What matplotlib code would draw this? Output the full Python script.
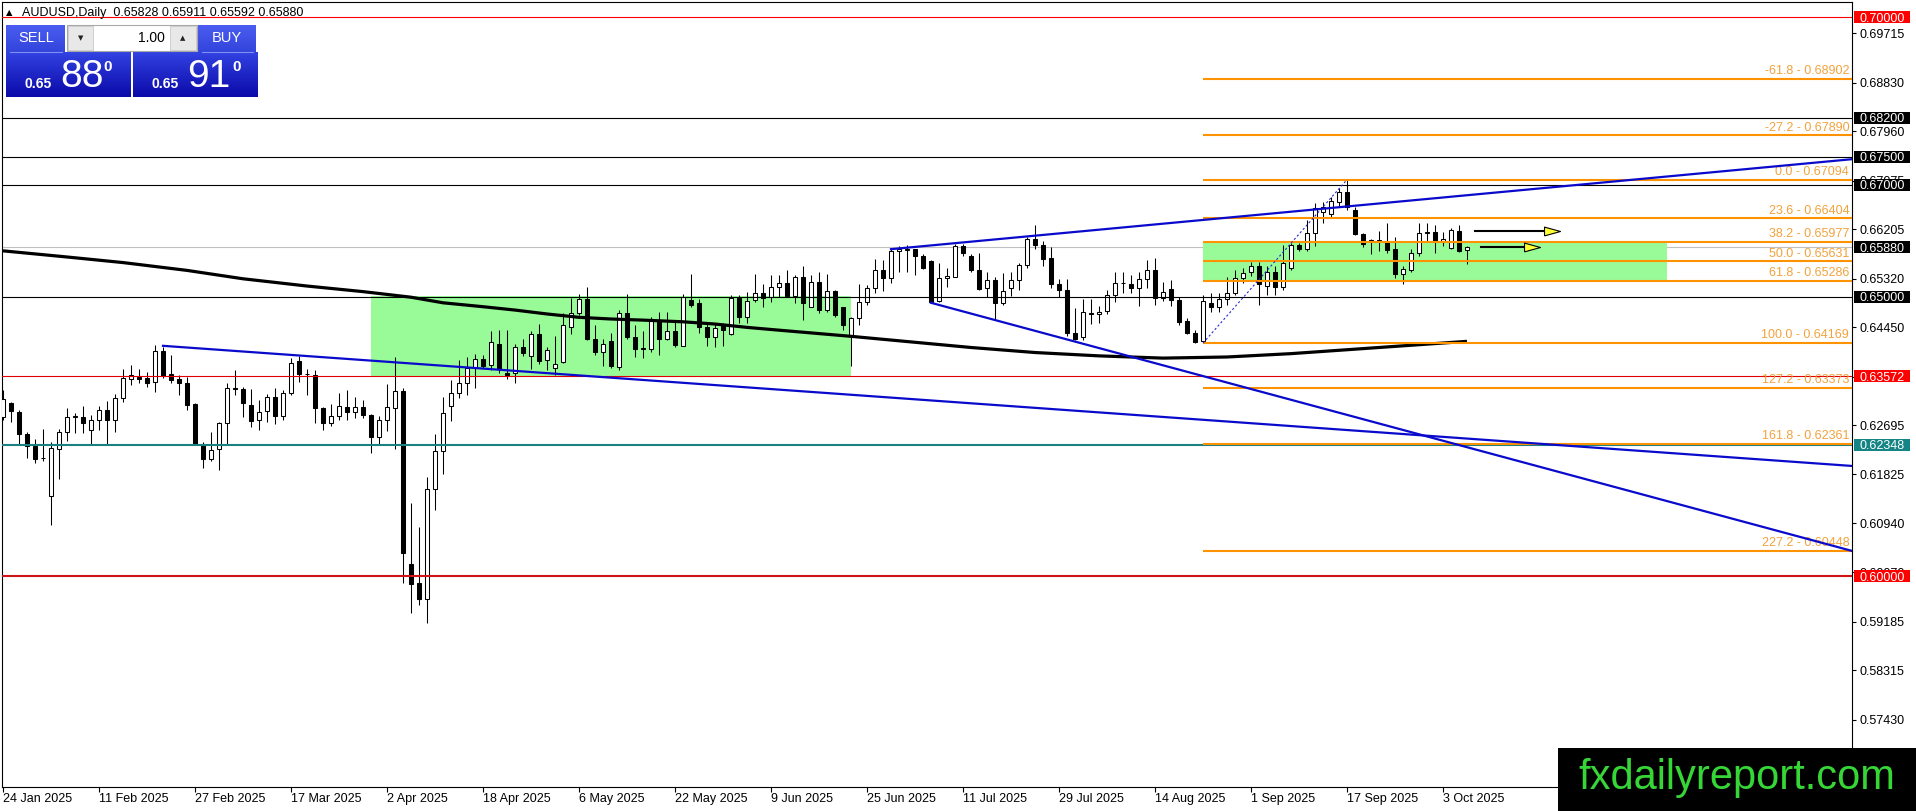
import matplotlib
matplotlib.use("Agg")
import matplotlib.pyplot as plt
import matplotlib.transforms as mtransforms
import numpy as np
import pandas as pd
from matplotlib.colors import LinearSegmentedColormap
from matplotlib.patches import Rectangle

plt.rcParams["font.family"] = ["Liberation Sans", "DejaVu Sans"]

W, H = 1916, 811

# 1. Chart data (AUDUSD daily)
dates = pd.bdate_range("2025-01-24", periods=184)

open_prices = [
    0.6285, 0.6310, 0.6294, 0.6254, 0.6233, 0.6212, 0.6143, 0.6228, 0.6257, 0.6285,
    0.6284, 0.6261, 0.6279, 0.6297, 0.6280, 0.6318, 0.6352, 0.6357, 0.6354, 0.6347,
    0.6403, 0.6361, 0.6352, 0.6346, 0.6308, 0.6236, 0.6210, 0.6227, 0.6273, 0.6336,
    0.6334, 0.6306, 0.6280, 0.6295, 0.6321, 0.6286, 0.6327, 0.6385, 0.6361, 0.6360,
    0.6300, 0.6273, 0.6286, 0.6303, 0.6293, 0.6302, 0.6289, 0.6248, 0.6279, 0.6301,
    0.6331, 0.6022, 0.5987, 0.5958, 0.6156, 0.6224, 0.6304, 0.6328, 0.6346, 0.6372,
    0.6389, 0.6378, 0.6416, 0.6364, 0.6363, 0.6410, 0.6393, 0.6433, 0.6387, 0.6372,
    0.6383, 0.6446, 0.6470, 0.6495, 0.6425, 0.6401, 0.6421, 0.6374, 0.6471, 0.6428,
    0.6408, 0.6406, 0.6458, 0.6425, 0.6439, 0.6412, 0.6494, 0.6489, 0.6446, 0.6427,
    0.6447, 0.6433, 0.6497, 0.6464, 0.6494, 0.6507, 0.6499, 0.6518, 0.6524, 0.6501,
    0.6535, 0.6482, 0.6526, 0.6476, 0.6510, 0.6481, 0.6430, 0.6461, 0.6490, 0.6515,
    0.6547, 0.6533, 0.6581, 0.6584, 0.6585, 0.6573, 0.6563, 0.6493, 0.6533, 0.6536,
    0.6591, 0.6573, 0.6548, 0.6515, 0.6530, 0.6489, 0.6515, 0.6529, 0.6557, 0.6603,
    0.6592, 0.6570, 0.6523, 0.6512, 0.6435, 0.6427, 0.6470, 0.6469, 0.6475, 0.6503,
    0.6525, 0.6523, 0.6515, 0.6531, 0.6547, 0.6497, 0.6513, 0.6494, 0.6456, 0.6435,
    0.6420, 0.6489, 0.6482, 0.6495, 0.6507, 0.6533, 0.6545, 0.6555, 0.6519, 0.6545,
    0.6518, 0.6552, 0.6592, 0.6586, 0.6614, 0.6652, 0.6648, 0.6670, 0.6687, 0.6655,
    0.6613, 0.6601, 0.6600, 0.6597, 0.6585, 0.6541, 0.6548, 0.6579, 0.6614, 0.6616,
    0.6600, 0.6587, 0.6618, 0.65828,
]
high_prices = [
    0.6333, 0.6312, 0.6297, 0.6258, 0.6246, 0.6264, 0.6239, 0.6264, 0.6300, 0.6291,
    0.6304, 0.6288, 0.6304, 0.6314, 0.6326, 0.6370, 0.6378, 0.6370, 0.6366, 0.6413,
    0.6410, 0.6396, 0.6360, 0.6357, 0.6309, 0.6240, 0.6258, 0.6276, 0.6346, 0.6368,
    0.6339, 0.6334, 0.6315, 0.6326, 0.6336, 0.6333, 0.6390, 0.6393, 0.6370, 0.6368,
    0.6302, 0.6308, 0.6328, 0.6333, 0.6320, 0.6315, 0.6290, 0.6286, 0.6344, 0.6392,
    0.6336, 0.6130, 0.6088, 0.6178, 0.6255, 0.6320, 0.6351, 0.6387, 0.6392, 0.6397,
    0.6395, 0.6439, 0.6440, 0.6440, 0.6415, 0.6424, 0.6439, 0.6451, 0.6409, 0.6430,
    0.6471, 0.6497, 0.6505, 0.6517, 0.6449, 0.6425, 0.6435, 0.6476, 0.6505, 0.6449,
    0.6439, 0.6464, 0.6473, 0.6473, 0.6459, 0.6505, 0.6541, 0.6495, 0.6451, 0.6452,
    0.6452, 0.6503, 0.6503, 0.6509, 0.6541, 0.6523, 0.6539, 0.6539, 0.6548, 0.6539,
    0.6554, 0.6539, 0.6545, 0.6541, 0.6512, 0.6482, 0.6464, 0.6523, 0.6521, 0.6567,
    0.6566, 0.6585, 0.6591, 0.6593, 0.6586, 0.6577, 0.6566, 0.6560, 0.6551, 0.6595,
    0.6595, 0.6576, 0.6579, 0.6545, 0.6536, 0.6542, 0.6545, 0.6561, 0.6607, 0.6628,
    0.6600, 0.6588, 0.6531, 0.6531, 0.6479, 0.6495, 0.6495, 0.6483, 0.6512, 0.6545,
    0.6545, 0.6539, 0.6545, 0.6566, 0.6570, 0.6527, 0.6529, 0.6500, 0.6461, 0.6440,
    0.6503, 0.6507, 0.6506, 0.6536, 0.6548, 0.6551, 0.6562, 0.6562, 0.6555, 0.6554,
    0.6592, 0.6596, 0.6596, 0.6638, 0.6668, 0.6670, 0.6678, 0.6694, 0.67094, 0.6661,
    0.6614, 0.6604, 0.6618, 0.6632, 0.6606, 0.6555, 0.6585, 0.6631, 0.6632, 0.6628,
    0.6616, 0.6623, 0.6628, 0.65911,
]
low_prices = [
    0.6280, 0.6276, 0.6237, 0.6212, 0.6202, 0.6205, 0.6091, 0.6173, 0.6242, 0.6256,
    0.6256, 0.6237, 0.6261, 0.6236, 0.6257, 0.6312, 0.6342, 0.6345, 0.6339, 0.6330,
    0.6354, 0.6345, 0.6324, 0.6298, 0.6234, 0.6194, 0.6206, 0.6190, 0.6236, 0.6324,
    0.6284, 0.6267, 0.6261, 0.6276, 0.6272, 0.6280, 0.6324, 0.6348, 0.6324, 0.6273,
    0.6261, 0.6268, 0.6280, 0.6280, 0.6282, 0.6282, 0.6221, 0.6236, 0.6260, 0.6228,
    0.5988, 0.5934, 0.5948, 0.5916, 0.6119, 0.6183, 0.6278, 0.6318, 0.6324, 0.6336,
    0.6372, 0.6369, 0.6363, 0.6352, 0.6346, 0.6393, 0.6370, 0.6379, 0.6369, 0.6360,
    0.6381, 0.6434, 0.6467, 0.6422, 0.6395, 0.6375, 0.6372, 0.6368, 0.6425, 0.6392,
    0.6390, 0.6401, 0.6395, 0.6422, 0.6409, 0.6411, 0.6482, 0.6435, 0.6412, 0.6409,
    0.6412, 0.6431, 0.6452, 0.6453, 0.6491, 0.6482, 0.6491, 0.6499, 0.6499, 0.6489,
    0.6459, 0.6481, 0.6470, 0.6473, 0.6464, 0.6441, 0.6375, 0.6449, 0.6485, 0.6506,
    0.6511, 0.6525, 0.6545, 0.6545, 0.6539, 0.6549, 0.6489, 0.6491, 0.6517, 0.6535,
    0.6572, 0.6545, 0.6512, 0.6500, 0.6459, 0.6485, 0.6501, 0.6512, 0.6551, 0.6586,
    0.6554, 0.6515, 0.6499, 0.6429, 0.6423, 0.6422, 0.6451, 0.6452, 0.6469, 0.6491,
    0.6507, 0.6507, 0.6483, 0.6515, 0.6485, 0.6493, 0.6483, 0.6449, 0.6434, 0.6417,
    0.64169, 0.6473, 0.6472, 0.6485, 0.6503, 0.6525, 0.6537, 0.6485, 0.6503, 0.6503,
    0.6512, 0.6548, 0.6582, 0.6582, 0.6591, 0.6631, 0.6643, 0.6661, 0.6655, 0.6610,
    0.6588, 0.6576, 0.6582, 0.6579, 0.6533, 0.6523, 0.6545, 0.6573, 0.6599, 0.6579,
    0.6591, 0.6585, 0.6580, 0.65592,
]
close_prices = [
    0.6316, 0.6295, 0.6254, 0.6233, 0.6210, 0.6211, 0.6229, 0.6257, 0.6285, 0.6286,
    0.6274, 0.6279, 0.6297, 0.6280, 0.6318, 0.6354, 0.6359, 0.6353, 0.6346, 0.6403,
    0.6358, 0.6350, 0.6345, 0.6306, 0.6236, 0.6209, 0.6226, 0.6273, 0.6336, 0.6334,
    0.6309, 0.6278, 0.6294, 0.6321, 0.6286, 0.6327, 0.6382, 0.6361, 0.6361, 0.6300,
    0.6274, 0.6286, 0.6305, 0.6293, 0.6302, 0.6289, 0.6248, 0.6280, 0.6302, 0.6331,
    0.6041, 0.5985, 0.5958, 0.6156, 0.6224, 0.6291, 0.6328, 0.6346, 0.6372, 0.6389,
    0.6375, 0.6418, 0.6370, 0.6359, 0.6410, 0.6400, 0.6434, 0.6384, 0.6405, 0.6380,
    0.6449, 0.6470, 0.6495, 0.6424, 0.6401, 0.6415, 0.6375, 0.6471, 0.6428, 0.6407,
    0.6407, 0.6458, 0.6425, 0.6439, 0.6413, 0.6500, 0.6485, 0.6446, 0.6427, 0.6443,
    0.6440, 0.6497, 0.6464, 0.6493, 0.6507, 0.6497, 0.6518, 0.6524, 0.6501, 0.6535,
    0.6489, 0.6526, 0.6476, 0.6510, 0.6467, 0.6449, 0.6461, 0.6490, 0.6515, 0.6547,
    0.6533, 0.6582, 0.6585, 0.6585, 0.6573, 0.6552, 0.6491, 0.6533, 0.6537, 0.6591,
    0.6579, 0.6547, 0.6513, 0.6530, 0.6489, 0.6511, 0.6529, 0.6557, 0.6604, 0.6592,
    0.6567, 0.6523, 0.6512, 0.6435, 0.6425, 0.6473, 0.6469, 0.6473, 0.6503, 0.6525,
    0.6525, 0.6515, 0.6531, 0.6547, 0.6497, 0.6509, 0.6494, 0.6455, 0.6435, 0.6419,
    0.6493, 0.6482, 0.6495, 0.6507, 0.6534, 0.6542, 0.6555, 0.6523, 0.6545, 0.6518,
    0.6560, 0.6592, 0.6585, 0.6614, 0.6658, 0.6660, 0.6672, 0.6687, 0.6661, 0.6612,
    0.6595, 0.6600, 0.6601, 0.6583, 0.6541, 0.6549, 0.6579, 0.6614, 0.6615, 0.6600,
    0.6604, 0.6620, 0.6582, 0.65880,
]

# moving average line, sampled along the curve
ma_bars = [0, 8, 15, 23, 30, 38, 45, 51, 55, 60, 64, 68, 72, 76, 80, 85, 89, 93, 97,
           106, 112, 121, 129, 137, 145, 153, 161, 170, 178, 183]
ma_values = [0.6582, 0.6571, 0.6561, 0.6547, 0.6532, 0.6519, 0.6509, 0.6499, 0.6489,
             0.6482, 0.6476, 0.6469, 0.6463, 0.6460, 0.6458, 0.6455, 0.6451, 0.6445,
             0.6440, 0.6429, 0.6421, 0.6409, 0.6400, 0.6394, 0.6390, 0.6392, 0.6398,
             0.6407, 0.6415, 0.6420]

# horizontal levels
level_prices = [0.70000, 0.68200, 0.67500, 0.67000, 0.65880, 0.65000, 0.63572, 0.62348, 0.60000]
level_colors = ["#FF0000", "black", "black", "black", "#C0C0C0", "black", "#E00000", "#1A8080", "#CC1515"]
level_widths = [0.8, 0.8, 0.8, 0.8, 0.8, 0.8, 0.8, 1.5, 1.5]
label_colors = ["#FF0000", "black", "black", "black", "black", "black", "#FF0000", "#148484", "#FF0000"]

# fibonacci retracement
fib_ratios = ["-61.8", "-27.2", "0.0", "23.6", "38.2", "50.0", "61.8", "100.0", "127.2", "161.8", "227.2"]
fib_prices = [0.68902, 0.67890, 0.67094, 0.66404, 0.65977, 0.65631, 0.65286, 0.64169, 0.63373, 0.62361, 0.60448]
fib_start_bar = 150
fib_anchor_bars = [150, 168]
fib_anchor_prices = [0.64169, 0.67094]

# trend lines (start point, end point at the right edge)
trend_x0 = [111, 116, 20]
trend_y0 = [0.6585, 0.6489, 0.6412]
trend_x1 = [231.1, 231.1, 231.1]
trend_y1 = [0.6746, 0.6045, 0.6197]

# rectangles
zone_x0 = [46, 150]
zone_x1 = [106, 208]
zone_low = [0.63572, 0.65286]
zone_high = [0.6501, 0.65977]

# arrows
arrow_x0 = [184.0, 184.7]
arrow_x1 = [194.6, 192.1]
arrow_y = [0.6618, 0.6589]

axis_ticks = [0.69715, 0.68830, 0.67960, 0.67075, 0.66205, 0.65320, 0.64450, 0.63565,
              0.62695, 0.61825, 0.60940, 0.60070, 0.59185, 0.58315, 0.57430]

bid_price = 0.65880
ask_price = 0.65910


# 2. Figure and main axes
fig = plt.figure(figsize=(W / 100, H / 100), dpi=100)
fig.patch.set_facecolor("white")
ax = fig.add_axes([2 / W, (H - 787) / H, 1850 / W, 785 / H])
x_min, x_max = -0.125, 231.125
ax.set_xlim(x_min, x_max)
ax.set_ylim(0.562234, 0.702739)
for spine in ax.spines.values():
    spine.set_linewidth(0.8)
    spine.set_color("black")

bars = np.arange(len(dates))
o = np.array(open_prices)
h = np.array(high_prices)
l = np.array(low_prices)
c = np.array(close_prices)
up = c >= o

# zones in background
for x0, x1, lo, hi in zip(zone_x0, zone_x1, zone_low, zone_high):
    ax.add_patch(Rectangle((x0, lo), x1 - x0, hi - lo, facecolor="#98FB98", edgecolor="none", zorder=1.5))

# candles
ax.vlines(bars, l, h, color="black", lw=0.75, zorder=3)
body_low = np.minimum(o, c)
body_h = np.abs(c - o)
ax.bar(bars[up], body_h[up], bottom=body_low[up], width=0.62, color="white",
       edgecolor="black", linewidth=0.75, zorder=4)
ax.bar(bars[~up], body_h[~up], bottom=body_low[~up], width=0.62, color="black",
       edgecolor="black", linewidth=0.75, zorder=4)

# moving average
ax.plot(ma_bars, ma_values, color="black", lw=2.3, zorder=4.5, solid_capstyle="butt")

# horizontal levels
for price, col, lw in zip(level_prices, level_colors, level_widths):
    z = 1 if col == "#C0C0C0" else 5
    ax.axhline(price, color=col, lw=lw, zorder=z)

# fibonacci levels
ax.hlines(fib_prices, fib_start_bar, x_max, color="#FF9200", lw=1.5, zorder=5)
for ratio, price in zip(fib_ratios, fib_prices):
    ax.annotate(f"{ratio} - {price:.5f}", xy=(1, price), xycoords=("axes fraction", "data"),
                xytext=(-2, 1.2), textcoords="offset points", ha="right", va="bottom",
                fontsize=9, color="#F2A23C", zorder=6)
ax.plot(fib_anchor_bars, fib_anchor_prices, color="#2A2AD0", lw=0.8, ls=(0, (2, 2)), zorder=5)

# trend lines
for x0, y0, x1, y1 in zip(trend_x0, trend_y0, trend_x1, trend_y1):
    ax.plot([x0, x1], [y0, y1], color="#0A0ACC", lw=1.6, zorder=6)

# arrows: black shaft with yellow head
head = [(-2, -0.55), (0, 0), (-2, 0.55), (-2, -0.55)]
for x0, x1, y in zip(arrow_x0, arrow_x1, arrow_y):
    ax.plot([x0, x1 - 1.5], [y, y], color="black", lw=1.5, zorder=7)
    ax.plot([x1], [y], marker=head, markersize=23, markerfacecolor="#FFFF33",
            markeredgecolor="black", markeredgewidth=0.8, zorder=8)

# axes ticks
ax.yaxis.tick_right()
ax.set_yticks(axis_ticks)
ax.set_yticklabels([f"{t:.5f}" for t in axis_ticks])
ax.tick_params(axis="y", length=3, width=0.8, pad=2.5, labelsize=9, colors="black")

tick_bars = list(range(0, len(dates), 12))
ax.set_xticks(tick_bars)
ax.set_xticklabels([f"{dates[i].day} {dates[i].strftime('%b %Y')}" for i in tick_bars])
ax.tick_params(axis="x", length=3.5, width=0.8, pad=1, labelsize=9)
for lbl in ax.get_xticklabels():
    lbl.set_horizontalalignment("left")

# coloured price labels on the right scale
blend = mtransforms.blended_transform_factory(ax.transAxes, ax.transData)
px_y = (0.702739 - 0.562234) / 785
px_x = 1 / 1850
for price, col in zip(level_prices, label_colors):
    ax.add_patch(Rectangle((1 + 2 * px_x, price - 6 * px_y), 56 * px_x, 12 * px_y,
                           transform=blend, facecolor=col, edgecolor="none",
                           clip_on=False, zorder=20))
    ax.text(1 + 7 * px_x, price, f"{price:.5f}", transform=blend, ha="left",
            va="center_baseline", fontsize=9, color="white", clip_on=False, zorder=21)


# 3. Overlay: header, trading panel, watermark
ov = fig.add_axes([0, 0, 1, 1], zorder=10)
ov.set_xlim(0, W)
ov.set_ylim(H, 0)
ov.axis("off")
ov.patch.set_alpha(0)
ov.set_autoscale_on(False)

ov.text(6, 13, "\u25B2", fontsize=6, ha="left", va="center", color="black",
        family=["DejaVu Sans"])
ov.text(22, 13, f"AUDUSD,Daily  {o[-1]:.5f} {h[-1]:.5f} {l[-1]:.5f} {c[-1]:.5f}",
        fontsize=9, ha="left", va="center", color="black")

head_cmap = LinearSegmentedColormap.from_list("hd", ["#4B5DF0", "#3344DC"])
price_cmap = LinearSegmentedColormap.from_list("pr", ["#3242E2", "#0A0AA8"])
grad = np.linspace(0, 1, 60).reshape(-1, 1)
for x0, x1 in [(6, 65), (198, 256)]:
    ov.imshow(grad, extent=(x0, x1, 52, 25), cmap=head_cmap, aspect="auto", zorder=1)
for x0, x1 in [(6, 131), (133, 258)]:
    ov.imshow(grad, extent=(x0, x1, 97, 52), cmap=price_cmap, aspect="auto", zorder=1)
ov.plot([10, 62], [52, 52], color="#8090F0", lw=0.8, zorder=2)
ov.plot([202, 253], [52, 52], color="#8090F0", lw=0.8, zorder=2)
ov.text(36, 38.5, "SELL", fontsize=10.5, color="white", ha="center", va="center", zorder=3)
ov.text(227, 38.5, "BUY", fontsize=10.5, color="white", ha="center", va="center", zorder=3)

ov.add_patch(Rectangle((67, 25), 130, 26, facecolor="white", edgecolor="#A8A8A8", lw=0.8, zorder=2))
ov.add_patch(Rectangle((68, 26), 25, 24, facecolor="#E8E8E8", edgecolor="#C8C8C8", lw=0.6, zorder=2))
ov.add_patch(Rectangle((170, 26), 26, 24, facecolor="#E8E8E8", edgecolor="#C8C8C8", lw=0.6, zorder=2))
ov.text(80.5, 38, "\u25BC", fontsize=5, color="#222222", ha="center", va="center",
        family=["DejaVu Sans"], zorder=3)
ov.text(183, 38, "\u25B2", fontsize=5, color="#222222", ha="center", va="center",
        family=["DejaVu Sans"], zorder=3)
ov.text(165, 38.5, "1.00", fontsize=10, color="black", ha="right", va="center", zorder=3)

for price, x_big, x_small, x_sup in [(bid_price, 60, 25, 103), (ask_price, 187, 152, 232)]:
    txt = f"{price:.5f}"
    ov.text(x_small, 88, txt[:4], fontsize=10, fontweight="bold", color="white",
            ha="left", va="baseline", zorder=3)
    ov.text(x_big, 87, txt[4:6], fontsize=28, color="white", ha="left", va="baseline", zorder=3)
    ov.text(x_sup, 71, txt[6], fontsize=11, fontweight="bold", color="white",
            ha="left", va="baseline", zorder=3)

ov.add_patch(Rectangle((1558, 748), W - 1558, H - 748, facecolor="black", edgecolor="none", zorder=5))
ov.text(1737, 789, "fxdailyreport.com", fontsize=30, color="#36D636", ha="center",
        va="baseline", zorder=6)

fig.savefig("out.png", dpi=100, facecolor="white")
